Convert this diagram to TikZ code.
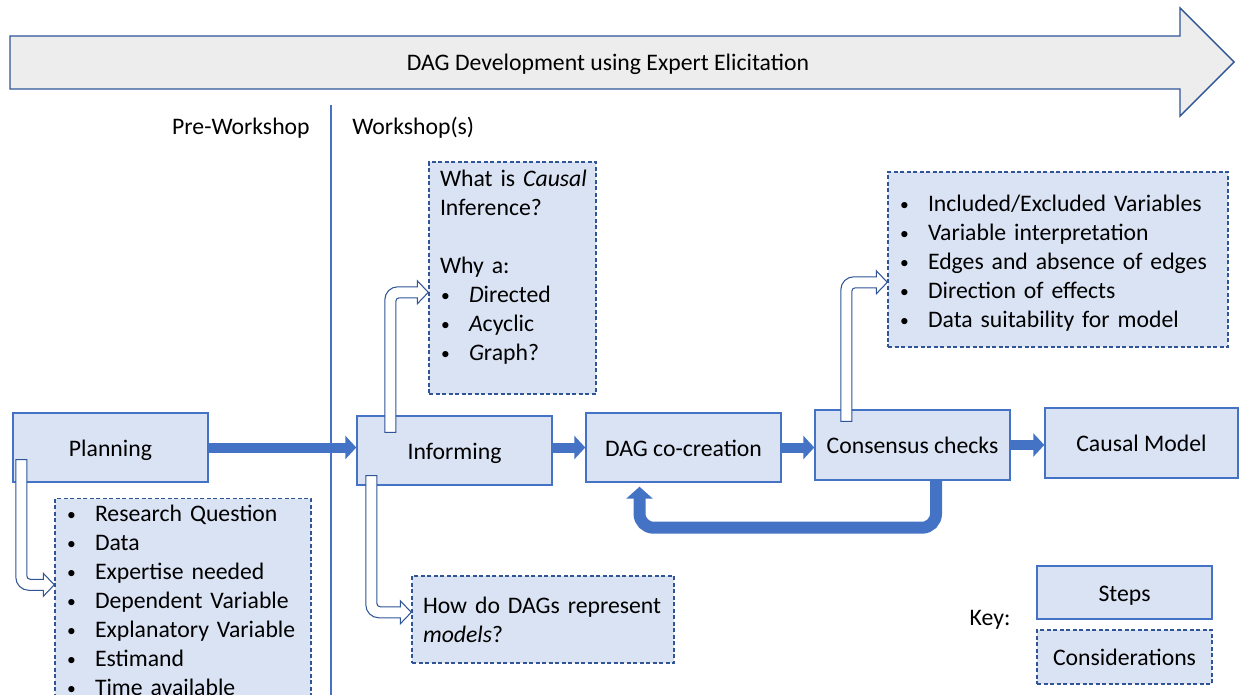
\documentclass[tikz,border=0pt]{standalone}
\usepackage{fontspec}
\setmainfont{Carlito}
\usetikzlibrary{arrows.meta,calc}
\definecolor{boxfill}{HTML}{DAE3F3}
\definecolor{boxline}{HTML}{4472C4}
\definecolor{darkline}{HTML}{2F5597}
\definecolor{bannerfill}{HTML}{EDEDED}
\newdimen\pxu \pxu=0.02cm
\newcommand{\bul}[1]{\makebox[29\pxu][l]{\hspace{1\pxu}\raisebox{0.5pt}{\fontsize{10}{10}\selectfont\textbullet}}\mbox{#1}}
% #1 start of shaft, #2 tip, #3 1 = bends from down, -1 = bends from up
\newcommand{\bentarrow}[3]{%
  \coordinate (ha) at (#1);
  \coordinate (hb) at (#2);
  \draw[hollow] ($(ha)+(-5.5,0)$) -- ($(ha|-hb)+(-5.5,{(#3)*(-7.5)})$)
    .. controls ($(ha|-hb)+(-5.5,{(#3)*(-0.3)})$) and ($(ha|-hb)+(0.3,{(#3)*5.5})$) .. ($(ha|-hb)+(7.5,{(#3)*5.5})$)
    -- ($(hb)+(-11,{(#3)*5.5})$) -- ($(hb)+(-11,{(#3)*11.5})$) -- (hb)
    -- ($(hb)+(-11,{-(#3)*11.5})$) -- ($(hb)+(-11,{-(#3)*5.5})$)
    -- ($(ha|-hb)+(9,{-(#3)*5.5})$) .. controls ($(ha|-hb)+(7,{-(#3)*5.5})$) and ($(ha|-hb)+(5.5,{-(#3)*7})$) .. ($(ha|-hb)+(5.5,{-(#3)*9})$)
    -- ($(ha)+(5.5,0)$) -- cycle;}

\begin{document}
\begin{tikzpicture}[x=0.02cm, y=-0.02cm,
  every node/.style={font=\fontsize{13.5}{16.5}\selectfont},
  stage/.style={draw=boxline, fill=boxfill, line width=0.8pt, minimum width=195\pxu, minimum height=69\pxu, inner sep=0pt, text height=0.38cm, text depth=0.04cm},
  note/.style={draw=darkline, fill=boxfill, line width=0.8pt, dash pattern=on 2.5pt off 1.2pt, align=left, inner xsep=11\pxu, inner ysep=0pt},
  flow/.style={draw=boxline, line width=0.2cm, -{Triangle[length=0.22cm, width=0.46cm]}},
  hollow/.style={draw=darkline, fill=white, line width=0.6pt},
  banner/.style={draw=darkline, fill=bannerfill, line width=0.8pt},
  divider/.style={draw=boxline, line width=0.6pt}]

 \useasboundingbox (0,0) rectangle (1239,695);

 \draw[banner] (10,36) -- (1180,36) -- (1180,8) -- (1234,62) -- (1180,116) -- (1180,89) -- (10,89) -- cycle;
 \node (title) at (608,64) {DAG Development using Expert Elicitation};

 \draw[divider] (331,105) -- (331,695);
 \node[anchor=east, inner sep=0pt] (pre) at (310,128) {Pre-Workshop};
 \node[anchor=west, inner sep=0pt] (works) at (352,128) {Workshop(s)};

 \node[stage] (plan) at (110.5,447.5) {Planning};
 \node[stage] (inform) at (454.5,450.5) {Informing};
 \node[stage] (dag) at (683.5,447.5) {DAG co-creation};
 \node[stage, minimum height=70\pxu] (cons) at (912.5,445) {Consensus checks};
 \node[stage, minimum width=193\pxu, minimum height=70\pxu] (causal) at (1141.5,443) {Causal Model};

 \node[note, text width=234\pxu, minimum height=203\pxu] (plist) at (183,600)
   {\bul{Research Question}\\ \bul{Data}\\ \bul{Expertise needed}\\ \bul{Dependent Variable}\\
    \bul{Explanatory Variable}\\ \bul{Estimand}\\ \bul{Time available}};
 \node[note, text width=145\pxu, minimum height=232\pxu] (whybox) at (512.5,278)
   {\mbox{What is \textit{Causal}}\\ Inference?\\[16.5pt] Why a:\\ \bul{\textit{D}irected}\\ \bul{\textit{A}cyclic}\\
    \bul{\textit{G}raph?}\rule[-25\pxu]{0pt}{25\pxu}};
 \node[note, text width=240\pxu, minimum height=87\pxu] (dagmodels) at (543,619.5)
   {\mbox{How do DAGs represent}\\ \textit{models}?};
 \node[note, text width=318\pxu, minimum height=175\pxu] (checks) at (1058,259.5)
   {\rule{0pt}{24\pxu}\bul{Included/Excluded Variables}\\ \bul{Variable interpretation}\\ \bul{Edges and absence of edges}\\
    \bul{Direction of effects}\\ \bul{Data suitability for model}};

 \node (key) at (990,620) {Key:};
 \node[stage, minimum width=175\pxu, minimum height=53\pxu] (keystep) at (1124.5,592.5) {Steps};
 \node[note, minimum width=175\pxu, minimum height=54\pxu, inner xsep=0pt] (keynote) at (1124.5,657) {Considerations};

 \draw[flow] (plan.east) -- (plan.east -| inform.west);
 \draw[flow] (dag.west -| inform.east) -- (dag.west);
 \draw[flow] (dag.east) -- (dag.east -| cons.west);
 \draw[flow] (cons.east) -- (cons.east -| causal.west);
 \draw[flow, line width=0.24cm, rounded corners=0.28cm, -{Triangle[length=0.24cm, width=0.52cm]}]
   ($(cons.south)+(23.5,0)$) |- ($(dag.south)+(-44,45)$) -- ($(dag.south)+(-44,4)$);

 \bentarrow{$(plan.south west)+(9,-23)$}{$(plist.north west)+(0,87)$}{1}
 \bentarrow{$(inform.north west)+(34,17)$}{$(whybox.north west)+(0,131)$}{-1}
 \bentarrow{$(inform.south west)+(15,-10)$}{$(dagmodels.north west)+(0,37)$}{1}
 \bentarrow{$(cons.north west)+(32,12)$}{$(checks.north west)+(0,111)$}{-1}
\end{tikzpicture}
\end{document}
